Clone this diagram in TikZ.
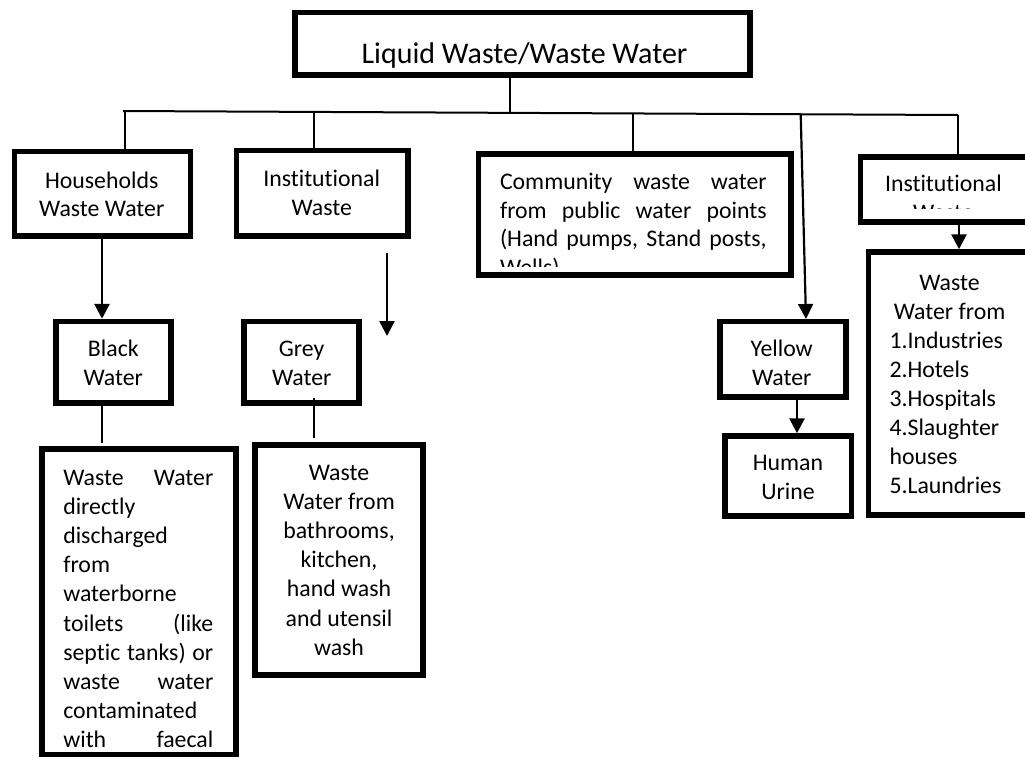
\documentclass[tikz,border=0pt]{standalone}
\usepackage{fontspec}
\setmainfont{Carlito}[Ligatures=NoCommon]
\usetikzlibrary{arrows.meta,calc}
\newcommand\jst[2]{\makebox[#1][s]{#2}}
\begin{document}
\begin{tikzpicture}[x=1pt,y=-1pt,
  box/.style={draw, line width=5.5pt, inner sep=0pt},
  txt/.style={inner sep=0pt, outer sep=0pt, anchor=base, font=\fontsize{23.8}{29.2}\selectfont},
  ltxt/.style={txt, anchor=base west},
  conn/.style={line width=2pt},
  arr/.style={line width=2.8pt, -{Triangle[length=15pt,width=15pt]}},
]
\useasboundingbox (0,0) rectangle (1025,758);
\clip (0,0) rectangle (1025,758);

% boxes
\node[box, minimum width=455pt, minimum height=62.5pt] (title) at (522.5,43.75) {};
\node[box, minimum width=176pt, minimum height=84.5pt] (hh) at (102.5,193.75) {};
\node[box, minimum width=171.5pt, minimum height=85.5pt] (inst1) at (322.25,193.25) {};
\node[box, minimum width=312.5pt, minimum height=121pt] (comm) at (634.75,214.5) {};
\node[box, minimum width=179.5pt, minimum height=65pt] (inst2) at (950.25,189.5) {};
\node[box, minimum width=171.5pt, minimum height=263pt] (ww) at (954.25,383.5) {};
\node[box, minimum width=115pt, minimum height=81.5pt] (black) at (113.5,362.25) {};
\node[box, minimum width=115pt, minimum height=81.5pt] (grey) at (301.5,362.25) {};
\node[box, minimum width=126pt, minimum height=75.3pt] (yellow) at (783,359.35) {};
\node[box, minimum width=126.5pt, minimum height=80pt] (human) at (788.25,476) {};
\node[box, minimum width=194pt, minimum height=305.7pt] (bdesc) at (139,601.85) {};
\node[box, minimum width=168pt, minimum height=230pt] (gdesc) at (339,560) {};

% bus line and its drops
\coordinate (busL) at (123,111);
\coordinate (busR) at (958,115);
\coordinate (bT) at (510,113.8);
\coordinate (bH) at (125,111);
\coordinate (bI) at (314,111.9);
\coordinate (bC) at (632.7,113.4);
\coordinate (bY) at (800.7,114.2);
\draw[conn] (busL) -- (busR);
\draw[conn, line width=2.4pt] (title.south -| bT) -- (bT);
\draw[conn] (bH) -- (bH |- hh.north);
\draw[conn] (bI) -- (bI |- inst1.north);
\draw[conn] (bC) -- (bC |- comm.north);
\draw[conn] (busR) -- (busR |- inst2.north);
\draw[arr, line width=2.2pt] (bY) -- ($(yellow.north)+(23,0)$);

% vertical guides
\coordinate (xA) at (102,0);
\coordinate (xG) at (314,0);
\coordinate (xF) at (387,0);
\coordinate (xR) at (959,0);
\coordinate (xU) at (797,0);
\coordinate (fEnd) at (387,336);

\draw[arr] (hh.south -| xA) -- (black.north -| xA);
\draw[conn] (black.south -| xA) -- ($(bdesc.north -| xA)+(0,-3)$);
\draw[conn] ($(grey.south -| xG)+(0,-7.5)$) -- ($(gdesc.north -| xG)+(0,-4)$);
\draw[arr, line width=2.5pt] ($(inst1.south -| xF)+(0,14)$) -- (fEnd);
\draw[arr] (inst2.south -| xR) -- (ww.north -| xR);
\draw[arr] (yellow.south -| xU) -- (human.north -| xU);

% texts
\node[txt, font=\fontsize{30}{36}\selectfont] (t0) at (524.5,63.3) {Liquid Waste/Waste Water};
\foreach \s [count=\i from 0] in {Households, Waste Water}
  \node[txt] (hh\i) at (101.7,188.3+28.4*\i) {\s};
\foreach \s [count=\i from 0] in {Institutional, Waste}
  \node[txt] (in\i) at (321.7,186+29*\i) {\s};
\foreach \s [count=\i from 0] in {Black, Water}
  \node[txt] (bl\i) at (113.3,356.3+29.5*\i) {\s};
\foreach \s [count=\i from 0] in {Grey, Water}
  \node[txt] (gr\i) at (301.7,356.3+29.5*\i) {\s};
\foreach \s [count=\i from 0] in {Yellow, Water}
  \node[txt] (ye\i) at (781.7,356+29*\i) {\s};
\foreach \s [count=\i from 0] in {Human, Urine}
  \node[txt] (hu\i) at (788,470.7+28.6*\i) {\s};
\foreach \s [count=\i from 0] in {Waste, Water from, {bathrooms,}, {kitchen,}, hand wash, and utensil, wash}
  \node[txt] (gd\i) at (339,480+29.2*\i) {\s};
\node[txt] (ww0) at (949.5,290) {Waste};
\node[txt] (ww1) at (949.5,319) {Water from};
\foreach \s [count=\i from 0] in {1.Industries, 2.Hotels, 3.Hospitals, 4.Slaughter, houses, 5.Laundries}
  \node[ltxt] (wl\i) at (889.5,348.3+29*\i) {\s};

\begin{scope}
  \clip (481,157) rectangle (788,266);
  \node[ltxt] (cm0) at (500,189.3) {\jst{266.7pt}{Community waste water}};
  \node[ltxt] (cm1) at (500,218.3) {\jst{266.7pt}{from public water points}};
  \node[ltxt] (cm2) at (500,246.7) {\jst{266.7pt}{(Hand pumps, Stand posts,}};
  \node[ltxt] (cm3) at (500,275.7) {Wells)};
\end{scope}

\begin{scope}
  \clip (863,160) rectangle (1025,208.5);
  \node[txt] (i20) at (943.4,191) {Institutional};
  \node[txt] (i21) at (943.4,220) {Waste};
\end{scope}

\begin{scope}
  \clip (45,452) rectangle (233,747.8);
  \foreach \s [count=\i from 0] in {{\jst{150pt}{Waste Water}}, directly, discharged, from, waterborne,
      {\jst{150pt}{toilets (like}}, {\jst{150pt}{septic tanks) or}}, {\jst{150pt}{waste water}},
      contaminated, {\jst{150pt}{with faecal}}}
    \node[ltxt] (bd\i) at (63.3,485+29.2*\i) {\s};
\end{scope}
\end{tikzpicture}
\end{document}
